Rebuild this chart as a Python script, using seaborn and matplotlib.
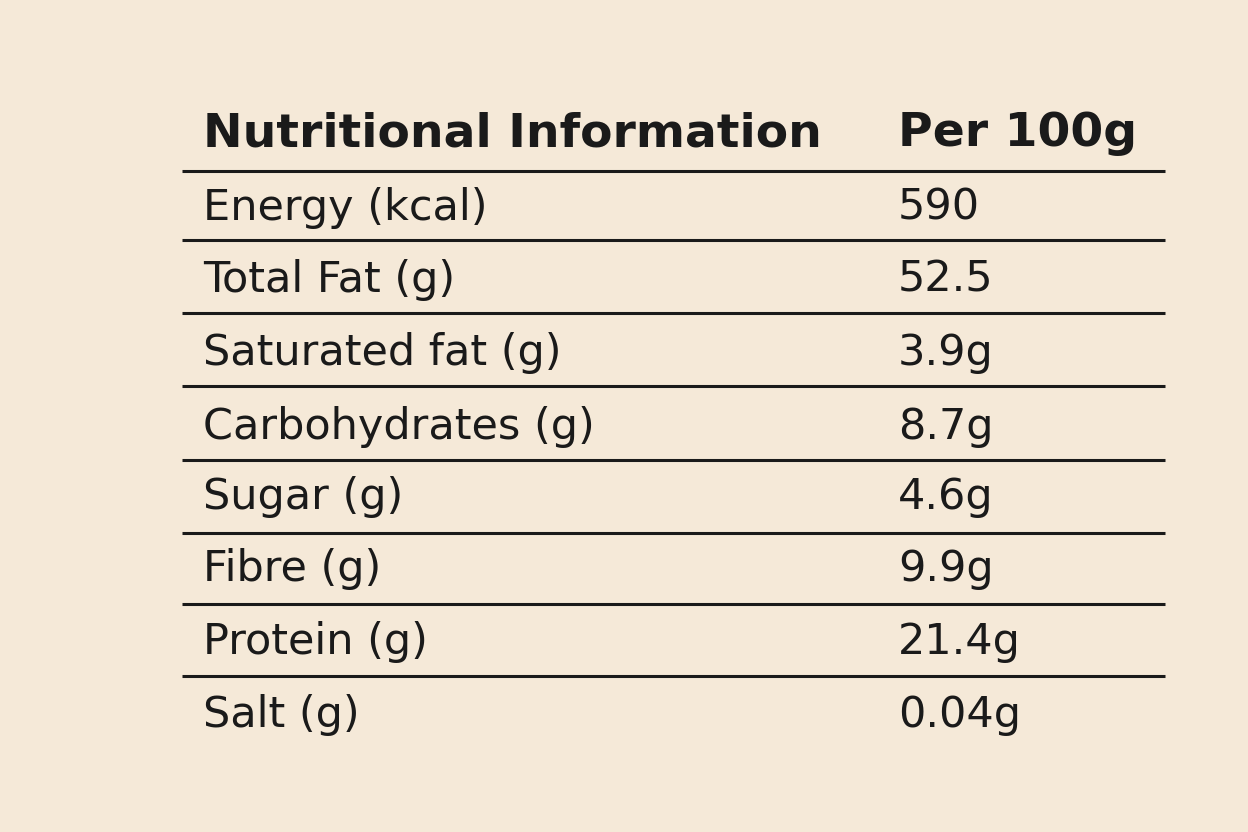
import matplotlib
matplotlib.use("Agg")
import matplotlib.pyplot as plt
import seaborn as sns

header = ["Nutritional Information", "Per 100g"]
nutrients = ["Energy (kcal)", "Total Fat (g)", "Saturated fat (g)", "Carbohydrates (g)",
             "Sugar (g)", "Fibre (g)", "Protein (g)", "Salt (g)"]
values = ["590", "52.5", "3.9g", "8.7g", "4.6g", "9.9g", "21.4g", "0.04g"]

sns.set_theme(style="white")
plt.rcParams['font.family'] = ['DejaVu Sans']
bg = "#F5E9D8"
fig = plt.figure(figsize=(12.48, 8.32), dpi=100, facecolor=bg)
ax = fig.add_axes([0, 0, 1, 1])
ax.set_facecolor(bg)
ax.set_xlim(0, 1248)
ax.set_ylim(832, 0)
ax.axis("off")

x0, x1, xl, xv = 182, 1165, 203, 898
ax.text(xl, 134, header[0], fontsize=34, fontweight="bold", va="center", color="#1a1a1a")
ax.text(xv, 134, header[1], fontsize=34, fontweight="bold", va="center", color="#1a1a1a")
line_y = [171, 240, 313, 386, 460, 533, 604, 676]
ax.hlines(line_y, x0, x1, color="#1a1a1a", lw=2.2)
text_y = [208, 280, 353, 427, 497, 569, 642, 715]
for y, n, v in zip(text_y, nutrients, values):
    ax.text(xl, y, n, fontsize=31, va="center", color="#1a1a1a")
    ax.text(xv, y, v, fontsize=31, va="center", color="#1a1a1a")

fig.savefig("out.png", dpi=100, facecolor=bg)
